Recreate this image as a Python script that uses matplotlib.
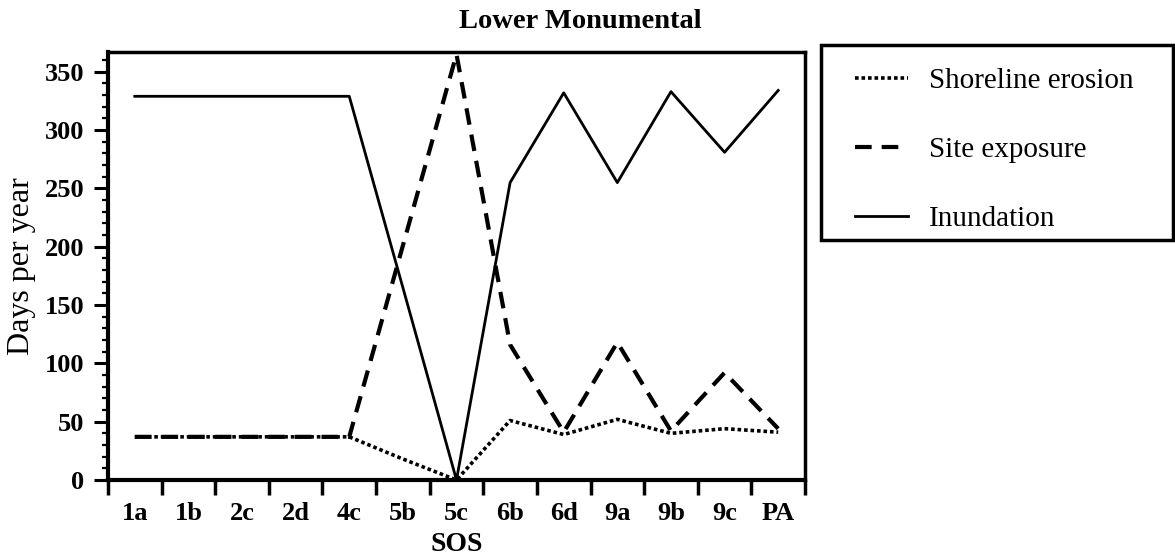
import matplotlib.pyplot as plt
from matplotlib.patches import Rectangle
import numpy as np

# Lower Monumental - days per year by SOS
labels = ['1a', '1b', '2c', '2d', '4c', '5b', '5c', '6b', '6d', '9a', '9b', '9c', 'PA']
shoreline = [37, 37, 37, 37, 37, 18, 0, 51, 39, 52, 40, 44, 41]
exposure = [37, 37, 37, 37, 37, 201, 365, 116, 41, 118, 42, 92, 44]
inundation = [329, 329, 329, 329, 329, 165, 0, 255, 332, 255, 333, 281, 334]

plt.rcParams['font.family'] = 'Liberation Serif'

x = np.arange(len(labels))

W, H = 1175, 556
fig = plt.figure(figsize=(W / 100, H / 100), dpi=100)
ax = fig.add_axes([0.0919, 0.1367, 0.5932, 0.7698])

ax.plot(x, shoreline, color='black', lw=2.6, linestyle=(0, (1, 0.8)), label='Shoreline erosion')
ax.plot(x, exposure, color='black', lw=3, linestyle=(0, (4, 2.4)), label='Site exposure')
ax.plot(x, inundation, color='black', lw=2, linestyle='-', label='Inundation')

ax.set_xlim(-0.5, len(labels) - 0.5)
ax.set_ylim(0, 367)

# x: tick marks between categories, labels at categories
ax.set_xticks(np.arange(-0.5, len(labels), 1.0))
ax.set_xticklabels([])
ax.set_xticks(x, minor=True)
ax.set_xticklabels(labels, minor=True, fontsize=19, fontweight='bold')
ax.tick_params(axis='x', which='major', direction='out', length=11, width=2.5)
ax.tick_params(axis='x', which='minor', length=0, pad=16)

ax.set_yticks(np.arange(0, 351, 50))
ax.set_yticks(np.arange(0, 367, 10), minor=True)
ax.tick_params(axis='y', which='major', direction='out', length=10, width=2.2, labelsize=19, pad=7)
ax.tick_params(axis='y', which='minor', direction='out', length=4.5, width=1.6)
for t in ax.get_yticklabels():
    t.set_fontweight('bold')

for side in ['left', 'bottom']:
    ax.spines[side].set_linewidth(3)
for side in ['top', 'right']:
    ax.spines[side].set_linewidth(2.5)

ax.set_ylabel('Days per year', fontsize=23)
ax.yaxis.set_label_coords(-0.103, 0.5)
ax.set_xlabel('SOS', fontsize=20, fontweight='bold', labelpad=5)

fig.text(0.494, 0.962, 'Lower Monumental', fontsize=20.5, fontweight='bold', ha='center', va='center')

# legend box drawn separately so the entries can sit inside it freely
fig.patches.append(Rectangle((821 / W, 1 - 240 / H), 352 / W, 195 / H, transform=fig.transFigure,
                             fill=False, edgecolor='black', lw=2.5))
leg = fig.legend(loc='upper left', bbox_to_anchor=(855 / W, 1 - 68 / H), fontsize=21,
                 frameon=False, handlelength=1.8, handletextpad=0.72, labelspacing=1.45,
                 borderpad=0, borderaxespad=0)

plt.savefig('out.png', dpi=100)
